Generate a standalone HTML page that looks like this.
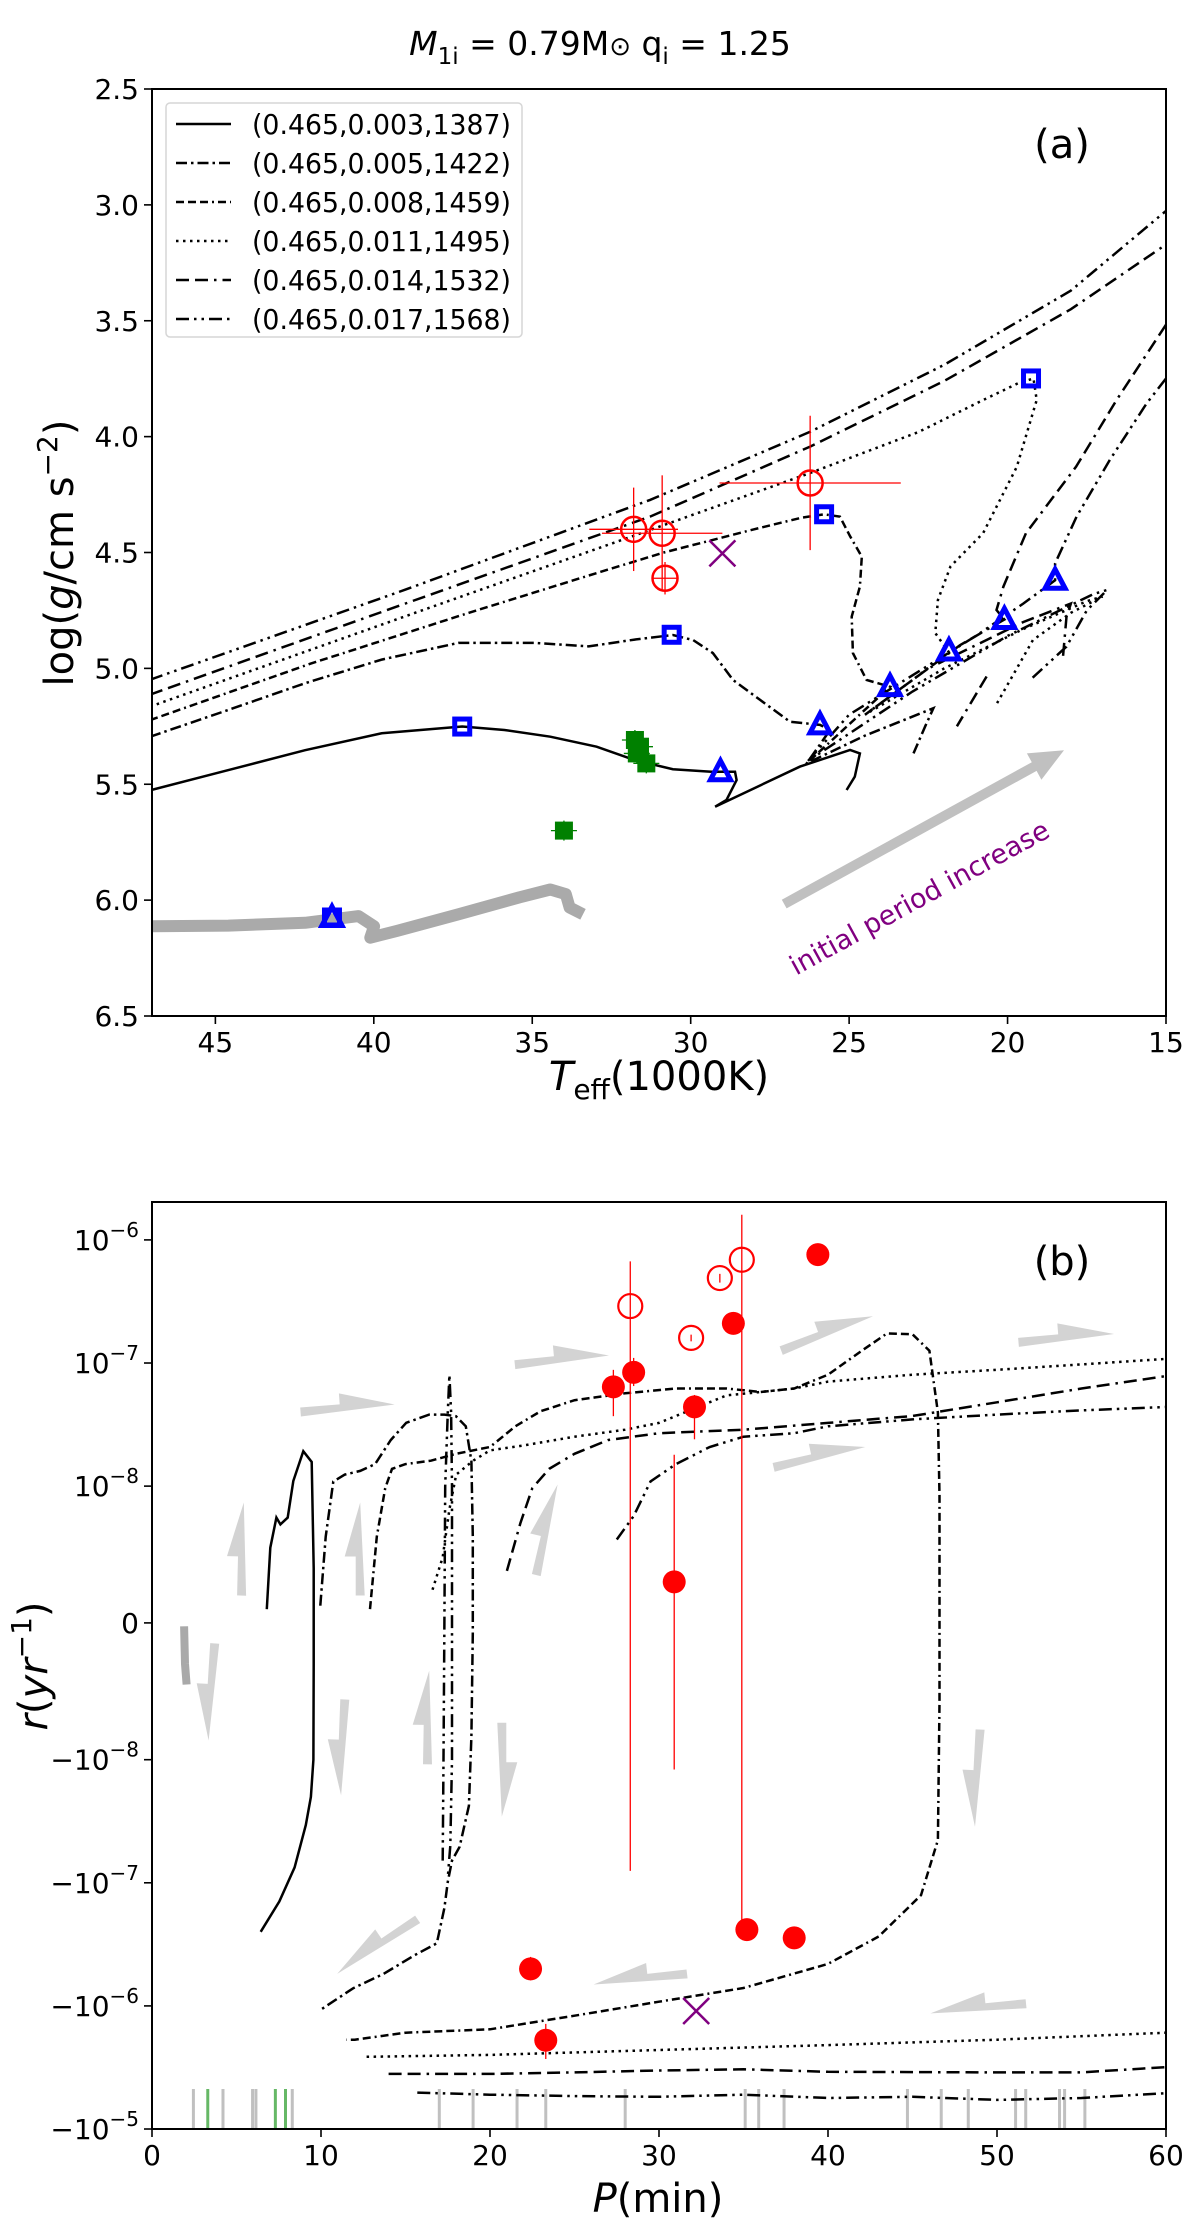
<!DOCTYPE html>
<html><head><meta charset="utf-8"><title>Binary evolution tracks</title>
<style>
html,body{margin:0;padding:0;background:#fff;}
svg{display:block;font-family:"DejaVu Sans","Liberation Sans",sans-serif;}
</style></head>
<body>
<svg id="fig" width="1200" height="2231" viewBox="0 0 1200 2231" xmlns="http://www.w3.org/2000/svg">
<text x="600" y="55" text-anchor="middle" font-size="33"><tspan font-style="italic">M</tspan><tspan font-size="23" dy="9">1i</tspan><tspan dy="-9"> = 0.79M</tspan><tspan font-size="26">⊙</tspan><tspan> q</tspan><tspan font-size="23" dy="9">i</tspan><tspan dy="-9"> = 1.25</tspan></text>
<g id="pa"></g>
<g id="pb"></g>
</svg>
<script>
// ---------- Panel (a) data ----------
const aSolidT=[47.06,44.59,42.17,39.75,37.21,35.88,34.43,32.97,31.77,30.56,29.35,28.6,28.55,28.87,29.23,26.55,24.97,24.66,24.82,25.08];
const aSolidG=[5.526,5.439,5.353,5.280,5.251,5.266,5.295,5.338,5.396,5.435,5.446,5.446,5.482,5.568,5.597,5.424,5.352,5.367,5.467,5.525];
const aDashdotT=[47.06,44.59,42.17,39.75,37.33,34.91,33.22,31.77,30.56,29.92,29.3,28.66,27.81,26.87,25.92,25.6,26.34,24.5,22.34,22.6,22.97];
const aDashdotG=[5.295,5.179,5.064,4.962,4.890,4.890,4.905,4.876,4.856,4.878,4.934,5.05,5.136,5.23,5.244,5.266,5.41,5.29,5.172,5.25,5.367];
const aDashedT=[47.06,42,37,33,30.85,28,26.5,25.79,25.29,24.97,24.6,24.66,24.92,24.88,24.45,23.71,26.34];
const aDashedG=[5.223,4.98,4.76,4.59,4.50,4.40,4.35,4.335,4.345,4.43,4.518,4.647,4.777,4.934,5.05,5.079,5.41];
const aDottedT=[47.06,39,31.28,26.23,22.81,20.77,19.67,19.18,19.08,19.71,20.77,21.8,22.2,22.28,21.85,23,24.5,22,19.5,17.5,17.0,18.0,19.2,20.33];
const aDottedG=[5.165,4.775,4.403,4.157,3.98,3.842,3.77,3.749,3.842,4.13,4.416,4.56,4.705,4.848,4.93,5.05,5.2,5.0,4.83,4.71,4.69,4.76,4.878,5.15];
const aLongT=[47.06,39,31.28,26.23,22,18,15];
const aLongG=[5.113,4.72,4.345,4.043,3.76,3.45,3.171];
const aLongLoopT=[15,16.56,17.84,19.42,20.13,20.35,20.1,21.5,23,24.5,22.5,19.5,18.0,18.14,18.25];
const aLongLoopG=[3.517,3.842,4.13,4.417,4.647,4.748,4.789,4.9,5.05,5.2,5.0,4.8,4.72,4.777,4.95];
const aLongHookT=[20.66,21.6];
const aLongHookG=[5.035,5.25];
const aDddT=[47.06,39,31.28,26.23,22,18,15];
const aDddG=[5.049,4.66,4.273,3.979,3.69,3.37,3.026];
const aDddLoopT=[15,15.61,16.77,17.82,18.5,18.5,19.5,21,23,25,26.3,23,20,17.3,16.86,17.5,18.14,19.29];
const aDddLoopG=[3.749,3.856,4.10,4.345,4.547,4.62,4.72,4.86,5.03,5.2,5.4,5.1,4.86,4.68,4.662,4.75,4.906,5.05];
const aGreyT=[47.06,44.59,42.17,40.48,39.99,40.11,39.27,37.33,35.4,34.43,33.94,33.82,33.4];
const aGreyG=[6.113,6.110,6.098,6.069,6.113,6.162,6.133,6.061,5.988,5.954,5.974,6.032,6.061];
const sqT=[37.21,30.6,25.79,19.26,41.32];
const sqG=[5.251,4.855,4.335,3.749,6.075];
const triT=[29.06,25.92,23.71,21.85,20.1,18.5,41.32];
const triG=[5.446,5.244,5.079,4.925,4.789,4.62,6.075];
const circT=[26.23,31.8,30.9,30.81];
const circG=[4.20,4.40,4.417,4.611];
const circTerr=[2.86,1.4,1.9,0.4];
const circGerr=[0.29,0.18,0.25,0.07];
const grnT=[31.76,31.6,31.7,31.4,34.0];
const grnG=[5.309,5.338,5.367,5.41,5.70];
const xMarkT=[29.0];
const xMarkG=[4.504];
const aArrowT=[27.05,18.22];
const aArrowG=[6.017,5.353];
const aXticks=[45,40,35,30,25,20,15];
const aYticks=[2.5,3.0,3.5,4.0,4.5,5.0,5.5,6.0,6.5];
const legendLabels=["(0.465,0.003,1387)","(0.465,0.005,1422)","(0.465,0.008,1459)","(0.465,0.011,1495)","(0.465,0.014,1532)","(0.465,0.017,1568)"];

// ---------- Panel (b) data ----------
const bSolidP=[6.43,7.53,8.44,9.1,9.4,9.55,9.57,9.57,9.45,8.95,8.36,8.03,7.6,7.36,7.0,6.79];
const bSolidR=[-2.5e-7,-1.42e-7,-7.5e-8,-3.4e-8,-2.0e-8,-1.0e-8,-3e-9,4e-9,1.57e-8,1.92e-8,1.1e-8,7.7e-9,7.2e-9,7.7e-9,5.5e-9,1e-9];
const bDashdotP=[9.96,10.28,10.73,11.41,12.32,13.2,14.13,15.04,16.4,17.3,17.98,18.57,18.9,18.98,18.98,18.9,18.75,18.2,17.75,17.5,17.3,16.85,15.5,13.7,11.9,10.05];
const bDashdotR=[1.26e-9,6.3e-9,1.09e-8,1.24e-8,1.33e-8,1.51e-8,2.37e-8,3.27e-8,3.81e-8,3.81e-8,3.7e-8,3.06e-8,1.6e-8,6.3e-9,-7.6e-10,-8.3e-9,-2.37e-8,-5.1e-8,-6.6e-8,-9.8e-8,-1.6e-7,-3.1e-7,-3.9e-7,-5.5e-7,-7.2e-7,-1.06e-6];
const bSpikeP=[17.2,17.25,17.3,17.35,17.5,17.6,17.7,17.75,17.75,17.65,17.5];
const bSpikeR=[-6.6e-8,-1e-8,0,1e-8,4e-8,8e-8,4e-8,1e-8,-1e-8,-5e-8,-9e-8];
const bDashedP=[12.9,13.3,13.8,14.2,15,16.5,18,20,21.5,23,25,28,31,34,36,38,40,42,43.5,45,46,46.5,46.6,46.6,46.5,45.5,43,40,35,30,25,20,15,12,11.5];
const bDashedR=[1.01e-9,6.3e-9,9.85e-9,1.38e-8,1.51e-8,1.61e-8,1.83e-8,2.08e-8,3.06e-8,4.06e-8,4.99e-8,5.68e-8,6.21e-8,6.21e-8,5.82e-8,6.21e-8,8.04e-8,1.26e-7,1.74e-7,1.71e-7,1.26e-7,3.96e-8,9.3e-9,-5.8e-9,-4.5e-8,-1.26e-7,-2.73e-7,-4.56e-7,-7.16e-7,-9.25e-7,-1.2e-6,-1.55e-6,-1.65e-6,-1.88e-6,-1.88e-6];
const bDottedP=[16.6,17.2,17.6,18,19,20,22,25,28,30,32,34,36,38,40,45,50,55,60];
const bDottedR=[2.42e-9,4.8e-9,8.3e-9,1.24e-8,1.61e-8,1.95e-8,2.14e-8,2.52e-8,2.87e-8,3.26e-8,4.22e-8,5.46e-8,5.82e-8,6.21e-8,7.06e-8,8.04e-8,8.8e-8,9.75e-8,1.08e-7];
const bDottedLoP=[12.7,20,30,40,50,60];
const bDottedLoR=[-2.59e-6,-2.5e-6,-2.28e-6,-2.08e-6,-1.88e-6,-1.65e-6];
const bLongP=[21,21.8,22.5,23.5,25,27,30,35,40,45,50,55,60];
const bLongR=[3.8e-9,7.3e-9,9.85e-9,1.38e-8,1.83e-8,2.37e-8,2.69e-8,2.87e-8,3.26e-8,3.71e-8,4.8e-8,6.21e-8,7.83e-8];
const bLongLoP=[14,20,25,30,35,40,50,55,60];
const bLongLoR=[-3.57e-6,-3.57e-6,-3.47e-6,-3.35e-6,-3.27e-6,-3.43e-6,-3.47e-6,-3.47e-6,-3.14e-6];
const bDddP=[27.5,28.5,29.5,31,33,35,38,40,45,50,55,60];
const bDddR=[6.1e-9,7.8e-9,1.09e-8,1.51e-8,2.08e-8,2.52e-8,2.69e-8,3.06e-8,3.48e-8,3.81e-8,4.12e-8,4.39e-8];
const bDddLoP=[15.7,20,25,30,35,40,45,50,55,60];
const bDddLoR=[-5.06e-6,-5.26e-6,-5.4e-6,-5.47e-6,-5.26e-6,-5.6e-6,-5.47e-6,-5.8e-6,-5.6e-6,-5.12e-6];
const obsP=[27.3,28.5,32.1,34.4,39.4,30.9,35.2,38.0,22.4,23.3];
const obsR=[6.4e-8,8.4e-8,4.4e-8,2.1e-7,7.6e-7,3.0e-9,-2.4e-7,-2.8e-7,-5.0e-7,-1.9e-6];
const obsRlo=[3.7e-8,6.5e-8,2.4e-8,2.1e-7,7.6e-7,-1.2e-8,-2.4e-7,-2.8e-7,-6.2e-7,-2.7e-6];
const obsRhi=[8.8e-8,1.1e-7,5.5e-8,2.1e-7,7.6e-7,1.8e-8,-2.4e-7,-2.8e-7,-4.0e-7,-1.4e-6];
const openP=[28.3,31.9,33.6,34.9];
const openR=[2.9e-7,1.6e-7,4.9e-7,6.9e-7];
const openRlo=[-8e-8,1.5e-7,4.5e-7,-2.4e-7];
const openRhi=[6.7e-7,1.7e-7,5.3e-7,1.6e-6];
const bXP=[32.2];
const bXR=[-1.1e-6];
const arrTailP=[8.79,21.47,37.23,51.27,36.78,5.3,12.32,22.74,3.71,11.41,16.3,20.7,49.0,15.72,31.66,51.72];
const arrTailR=[4.0e-8,9.7e-8,1.26e-7,1.47e-7,1.42e-8,2.0e-9,2.0e-9,3.5e-9,-1.5e-9,-5.6e-9,-1.09e-8,-7.3e-9,-7.8e-9,-1.98e-7,-5.5e-7,-9.6e-7];
const arrHeadP=[14.36,27.04,42.66,56.93,42.21,5.43,12.32,24.0,3.35,11.19,16.4,20.7,48.7,10.96,26.13,46.06];
const arrHeadR=[4.6e-8,1.15e-7,2.4e-7,1.72e-7,2.08e-8,8.8e-9,8.8e-9,1.03e-8,-8.6e-9,-1.95e-8,-3.5e-9,-2.9e-8,-3.5e-8,-5.5e-7,-6.7e-7,-1.15e-6];
const greyStubP=[1.9,1.95,2.05];
const greyStubR=[-2.5e-10,-3e-9,-4.5e-9];
const rugGreyP=[2.45,4.2,5.95,6.15,8.3,17.0,19.0,21.6,23.3,28.0,35.1,35.9,37.4,44.7,46.7,48.3,51.1,51.7,53.7,54.0,55.2];
const rugGreenP=[3.3,7.3,7.9];
const bXticks=[0,10,20,30,40,50,60];
const bYtickVals=[1e-6,1e-7,1e-8,0,-1e-8,-1e-7,-1e-6,-1e-5];
const bYtickBase=["10","10","10","0","−10","−10","−10","−10"];
const bYtickExp=["−6","−7","−8","","−8","−7","−6","−5"];

// ---------- axes ----------
const AX={l:152,r:1166,t:89,b:1016};
const BX={l:152,r:1166,t:1202,b:2129};
function ax(T){return AX.l+(47-T)*(AX.r-AX.l)/32;}
function ay(g){return AX.t+(g-2.5)*(AX.b-AX.t)/4;}
function bx(P){return BX.l+P*(BX.r-BX.l)/60;}
function symlog(r){const a=Math.abs(r);const lin=1/(1-0.1);if(a<=1e-8)return r/1e-8*lin;return Math.sign(r)*(lin+Math.log10(a/1e-8));}
const tTop=3.419,tBot=-4.111;
function by(r){return BX.t+(tTop-symlog(r))*(BX.b-BX.t)/(tTop-tBot);}

const NS="http://www.w3.org/2000/svg";
function mk(tag,attrs,parent){const e=document.createElementNS(NS,tag);for(const k in attrs)e.setAttribute(k,attrs[k]);parent.appendChild(e);return e;}
function pts(xs,ys,fx,fy){return xs.map((v,i)=>fx(v).toFixed(1)+","+fy(ys[i]).toFixed(1)).join(" ");}

const DASH={solid:"",dashdot:"11 4 2.5 4",dashed:"8 4 8 4 8 4 2 4",dotted:"2.5 4.5",longdash:"13 6 13 6 2.5 6",ddd:"13 5 2.5 5 2.5 5"};

const pa=document.getElementById('pa');
const pb=document.getElementById('pb');

const defs=mk('defs',{},document.getElementById('fig'));
const ca=mk('clipPath',{id:'clipA'},defs);
mk('rect',{x:AX.l,y:AX.t,width:AX.r-AX.l,height:AX.b-AX.t},ca);
const cb=mk('clipPath',{id:'clipB'},defs);
mk('rect',{x:BX.l,y:BX.t,width:BX.r-BX.l,height:BX.b-BX.t},cb);

// ===== Panel A =====
const gA=mk('g',{'clip-path':'url(#clipA)'},pa);



let e;
e=mk('polyline',{points:pts(aGreyT,aGreyG,ax,ay),fill:'none',stroke:'#aaaaaa','stroke-width':12,'stroke-linejoin':'round'},gA);



function lineA(T,G,style,name){
  const l=mk('polyline',{points:pts(T,G,ax,ay),fill:'none',stroke:'#000','stroke-width':2.5,'stroke-dasharray':DASH[style]},gA);
  
  
}
lineA(aSolidT,aSolidG,'solid','track-a-0003');
lineA(aDashdotT,aDashdotG,'dashdot','track-a-0005');
lineA(aDashedT,aDashedG,'dashed','track-a-0008');
lineA(aDottedT,aDottedG,'dotted','track-a-0011');
lineA(aLongT,aLongG,'longdash','track-a-0014');
lineA(aLongLoopT,aLongLoopG,'longdash','track-a-0014-loop');
lineA(aLongHookT,aLongHookG,'longdash','track-a-0014-hook');
lineA(aDddT,aDddG,'ddd','track-a-0017');
lineA(aDddLoopT,aDddLoopG,'ddd','track-a-0017-loop');

(function(){
  const x1=ax(aArrowT[0]),y1=ay(aArrowG[0]),x2=ax(aArrowT[1]),y2=ay(aArrowG[1]);
  const dx=x2-x1,dy=y2-y1,L=Math.hypot(dx,dy),ux=dx/L,uy=dy/L,nx=-uy,ny=ux;
  const hw=5,hl=34,hh=15;
  const bxp=x2-ux*hl,byp=y2-uy*hl;
  const P=[[x1+nx*hw,y1+ny*hw],[bxp+nx*hw,byp+ny*hw],[bxp+nx*hh,byp+ny*hh],[x2,y2],[bxp-nx*hh,byp-ny*hh],[bxp-nx*hw,byp-ny*hw],[x1-nx*hw,y1-ny*hw]];
  const a=mk('polygon',{points:P.map(p=>p[0].toFixed(1)+","+p[1].toFixed(1)).join(" "),fill:'#c0c0c0'},gA);
  
  
})();
e=mk('text',{x:919,y:907,'text-anchor':'middle',fill:'#800080','font-size':27,transform:'rotate(-28.7 919 897)'},gA);
e.textContent='initial period increase';



circT.forEach((T,i)=>{
  const cx=ax(T),cy=ay(circG[i]);
  const g=mk('g',{stroke:'#ff0000',fill:'none'},gA);
  
  
  mk('line',{x1:ax(T-circTerr[i]),x2:ax(T+circTerr[i]),y1:cy,y2:cy,'stroke-width':1.3},g);
  mk('line',{x1:cx,x2:cx,y1:ay(circG[i]-circGerr[i]),y2:ay(circG[i]+circGerr[i]),'stroke-width':1.3},g);
  mk('circle',{cx:cx,cy:cy,r:12.5,'stroke-width':2.5},g);
});
grnT.forEach((T,i)=>{
  const cx=ax(T),cy=ay(grnG[i]);
  const g=mk('g',{},gA);
  
  
  mk('line',{x1:cx-13,x2:cx+13,y1:cy,y2:cy,stroke:'#008000','stroke-width':1.3},g);
  mk('line',{x1:cx,x2:cx,y1:cy-10,y2:cy+10,stroke:'#008000','stroke-width':1.3},g);
  mk('rect',{x:cx-9,y:cy-9,width:18,height:18,fill:'#008000'},g);
});
xMarkT.forEach((T,i)=>{
  const cx=ax(T),cy=ay(xMarkG[i]);
  const p=mk('path',{d:`M${cx-13},${cy-13}L${cx+13},${cy+13}M${cx-13},${cy+13}L${cx+13},${cy-13}`,stroke:'#800080','stroke-width':2.5,fill:'none'},gA);
  
  
});
sqT.forEach((T,i)=>{
  const cx=ax(T),cy=ay(sqG[i]);
  const r=mk('rect',{x:cx-7.5,y:cy-7.5,width:15,height:15,fill:'none',stroke:'#0000ff','stroke-width':5},gA);
  
  
});
triT.forEach((T,i)=>{
  const cx=ax(T),cy=ay(triG[i]);
  const t=mk('polygon',{points:`${cx},${cy-11} ${cx+10},${cy+8} ${cx-10},${cy+8}`,fill:'none',stroke:'#0000ff','stroke-width':5,'stroke-linejoin':'miter'},gA);
  
  
});

e=mk('rect',{x:AX.l,y:AX.t,width:AX.r-AX.l,height:AX.b-AX.t,fill:'none',stroke:'#000','stroke-width':2},pa);


aXticks.forEach(v=>{
  const x=ax(v);
  const t=mk('line',{x1:x,x2:x,y1:AX.b,y2:AX.b+8,stroke:'#000','stroke-width':1.6},pa);
  
  
  const l=mk('text',{x:x,y:AX.b+36,'text-anchor':'middle','font-size':28},pa);
  l.textContent=String(v);
  
  
});
aYticks.forEach(v=>{
  const y=ay(v);
  const t=mk('line',{x1:AX.l-8,x2:AX.l,y1:y,y2:y,stroke:'#000','stroke-width':1.6},pa);
  
  
  const l=mk('text',{x:AX.l-13,y:y+10,'text-anchor':'end','font-size':28},pa);
  l.textContent=v.toFixed(1);
  
  
});
e=mk('text',{x:659,y:1090,'text-anchor':'middle','font-size':40},pa);
e.innerHTML='<tspan font-style="italic">T</tspan><tspan font-size="28" dy="9">eff</tspan><tspan dy="-9">(1000K)</tspan>';


e=mk('text',{x:0,y:0,'text-anchor':'middle','font-size':40,transform:'translate(73 553) rotate(-90)'},pa);
e.innerHTML='log(<tspan font-style="italic">g</tspan>/cm s<tspan font-size="28" dy="-16">−2</tspan><tspan dy="16">)</tspan>';


e=mk('text',{x:1062,y:158,'text-anchor':'middle','font-size':40},pa);
e.textContent='(a)';



const lg=mk('g',{},pa);


e=mk('rect',{x:166,y:103,width:356,height:234,rx:4,fill:'#fff','fill-opacity':0.9,stroke:'#d6d6d6','stroke-width':1.5},lg);


const lgStyles=['solid','dashdot','dashed','dotted','longdash','ddd'];
legendLabels.forEach((s,i)=>{
  const y=124+i*39;
  const en=mk('g',{},lg);
  
  
  mk('line',{x1:176,x2:231,y1:y,y2:y,stroke:'#000','stroke-width':2.5,'stroke-dasharray':DASH[lgStyles[i]]},en);
  const t=mk('text',{x:252,y:y+10,'font-size':28,textLength:259,lengthAdjust:'spacingAndGlyphs'},en);
  t.textContent=s;
});

// ===== Panel B =====
const gB=mk('g',{'clip-path':'url(#clipB)'},pb);



rugGreyP.forEach(P=>{
  const x=bx(P);
  const l=mk('line',{x1:x,x2:x,y1:2089,y2:2129,stroke:'#c0c0c0','stroke-width':3},gB);
  
  
});
rugGreenP.forEach(P=>{
  const x=bx(P);
  const l=mk('line',{x1:x,x2:x,y1:2089,y2:2129,stroke:'#66b866','stroke-width':3},gB);
  
  
});

arrTailP.forEach((P,i)=>{
  const x1=bx(P),y1=by(arrTailR[i]),x2=bx(arrHeadP[i]),y2=by(arrHeadR[i]);
  const dx=x2-x1,dy=y2-y1,L=Math.hypot(dx,dy),ux=dx/L,uy=dy/L;
  let nx=uy,ny=-ux;
  if(dx<-1){nx=-nx;ny=-ny;}
  const h=4.5,mx=x1+dx*0.42,my=y1+dy*0.42;
  const Pp=[[x1-nx*h,y1-ny*h],[x1+nx*h,y1+ny*h],[mx+nx*h,my+ny*h],[mx+nx*(h+11),my+ny*(h+11)],[x2,y2]];
  const a=mk('polygon',{points:Pp.map(p=>p[0].toFixed(1)+","+p[1].toFixed(1)).join(" "),fill:'#d3d3d3'},gB);
  
  
});
e=mk('polyline',{points:pts(greyStubP,greyStubR,bx,by),fill:'none',stroke:'#a9a9a9','stroke-width':8},gB);



function lineB(P,R,style,name){
  const l=mk('polyline',{points:pts(P,R,bx,by),fill:'none',stroke:'#000','stroke-width':2.5,'stroke-dasharray':DASH[style]},gB);
  
  
}
lineB(bSolidP,bSolidR,'solid','track-b-0003');
lineB(bDashdotP,bDashdotR,'dashdot','track-b-0005');
lineB(bSpikeP,bSpikeR,'ddd','track-b-spike');
lineB(bDashedP,bDashedR,'dashed','track-b-0008');
lineB(bDottedP,bDottedR,'dotted','track-b-0011');
lineB(bDottedLoP,bDottedLoR,'dotted','track-b-0011-lower');
lineB(bLongP,bLongR,'longdash','track-b-0014');
lineB(bLongLoP,bLongLoR,'longdash','track-b-0014-lower');
lineB(bDddP,bDddR,'ddd','track-b-0017');
lineB(bDddLoP,bDddLoR,'ddd','track-b-0017-lower');

obsP.forEach((P,i)=>{
  const x=bx(P);
  const g=mk('g',{},gB);
  
  
  mk('line',{x1:x,x2:x,y1:by(obsRlo[i]),y2:by(obsRhi[i]),stroke:'#ff0000','stroke-width':1.3},g);
  mk('circle',{cx:x,cy:by(obsR[i]),r:11.5,fill:'#ff0000'},g);
});
openP.forEach((P,i)=>{
  const x=bx(P);
  const g=mk('g',{},gB);
  
  
  mk('line',{x1:x,x2:x,y1:by(openRlo[i]),y2:by(openRhi[i]),stroke:'#ff0000','stroke-width':1.3},g);
  mk('circle',{cx:x,cy:by(openR[i]),r:12,fill:'none',stroke:'#ff0000','stroke-width':2.2},g);
});
bXP.forEach((P,i)=>{
  const cx=bx(P),cy=by(bXR[i]);
  const p=mk('path',{d:`M${cx-13},${cy-13}L${cx+13},${cy+13}M${cx-13},${cy+13}L${cx+13},${cy-13}`,stroke:'#800080','stroke-width':2.5,fill:'none'},gB);
  
  
});

e=mk('rect',{x:BX.l,y:BX.t,width:BX.r-BX.l,height:BX.b-BX.t,fill:'none',stroke:'#000','stroke-width':2},pb);


bXticks.forEach(v=>{
  const x=bx(v);
  const t=mk('line',{x1:x,x2:x,y1:BX.b,y2:BX.b+8,stroke:'#000','stroke-width':1.6},pb);
  
  
  const l=mk('text',{x:x,y:BX.b+36,'text-anchor':'middle','font-size':28},pb);
  l.textContent=String(v);
  
  
});
bYtickVals.forEach((v,i)=>{
  const y=by(v);
  const t=mk('line',{x1:BX.l-8,x2:BX.l,y1:y,y2:y,stroke:'#000','stroke-width':1.6},pb);
  
  
  const l=mk('text',{x:BX.l-13,y:y+10,'text-anchor':'end','font-size':28},pb);
  
  
  if(bYtickExp[i]){
    const b=mk('tspan',{},l);b.textContent=bYtickBase[i];
    const s=mk('tspan',{'font-size':20,dy:-13},l);s.textContent=bYtickExp[i];
  } else { l.textContent=bYtickBase[i]; }
});
e=mk('text',{x:658,y:2212,'text-anchor':'middle','font-size':40},pb);
e.innerHTML='<tspan font-style="italic">P</tspan>(min)';


e=mk('text',{x:0,y:0,'text-anchor':'middle','font-size':40,transform:'translate(47 1666) rotate(-90)'},pb);
e.innerHTML='<tspan font-style="italic">r</tspan>(<tspan font-style="italic">yr</tspan><tspan font-size="28" dy="-16">−1</tspan><tspan dy="16">)</tspan>';


e=mk('text',{x:1062,y:1275,'text-anchor':'middle','font-size':40},pb);
e.textContent='(b)';


</script>
</body></html>
